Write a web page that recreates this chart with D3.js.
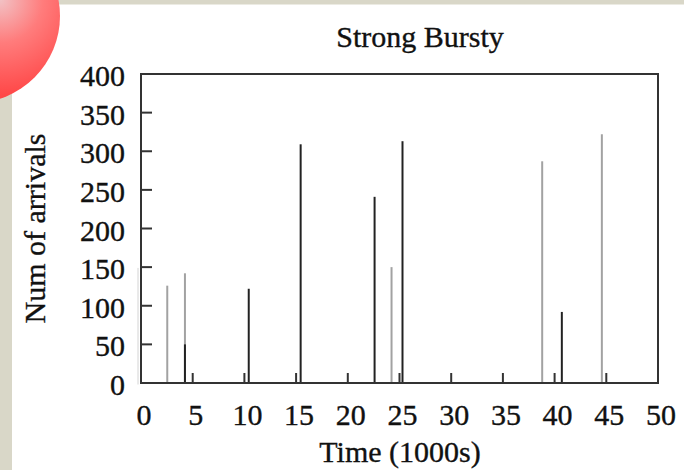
<!DOCTYPE html>
<html>
<head>
<meta charset="utf-8">
<script src="https://cdn.jsdelivr.net/npm/d3@7"></script>
<style>
  body { margin: 0; background: #fff; }
  text { font-family: "Liberation Serif", "DejaVu Serif", serif; fill: #111; stroke: #111; stroke-width: 0.35px; }
</style>
</head>
<body>
<script>
// arrivals over time, two traces (grey drawn first, black on top)
var greyTimes = [2.54, 4.25, 24.23, 38.8, 44.57];
var greyCounts = [126, 142, 150, 287, 322];
var blackTimes = [4.25, 10.42, 15.44, 22.59, 25.29, 40.7];
var blackCounts = [50, 122, 309, 241, 313, 92];
var xTicks = [0, 5, 10, 15, 20, 25, 30, 35, 40, 45, 50];
var yTicks = [0, 50, 100, 150, 200, 250, 300, 350, 400];

var width = 684, height = 470;
var margin = {top: 74, right: 25, bottom: 87, left: 141};

var svg = d3.select("body").append("svg")
    .attr("width", width)
    .attr("height", height);

// slide background bits
svg.append("rect").attr("x", 0).attr("y", 0).attr("width", width).attr("height", 4.5).attr("fill", "#d9d7c8");
svg.append("rect").attr("x", 0).attr("y", 0).attr("width", 12).attr("height", height).attr("fill", "#d9d7c8");

var grad = svg.append("defs").append("radialGradient")
    .attr("id", "ball")
    .attr("gradientUnits", "userSpaceOnUse")
    .attr("cx", 0).attr("cy", 0).attr("r", 95);
grad.append("stop").attr("offset", "0").attr("stop-color", "#f2c2c5");
grad.append("stop").attr("offset", "0.45").attr("stop-color", "#ff7c7c");
grad.append("stop").attr("offset", "1").attr("stop-color", "#ff4848");

svg.append("circle")
    .attr("cx", -27).attr("cy", 16).attr("r", 87)
    .attr("fill", "url(#ball)");

var x = d3.scaleLinear().domain([0, 50]).range([margin.left, width - margin.right - 1]);
var y = d3.scaleLinear().domain([0, 400]).range([height - margin.bottom, margin.top]);

// faint stray line left of the axis
svg.append("line")
    .attr("x1", 138).attr("x2", 138)
    .attr("y1", y(149)).attr("y2", y(-2))
    .attr("stroke", "#d4d4d4").attr("stroke-width", 1);

// bars
svg.selectAll(".grey")
  .data(greyTimes)
  .enter().append("line")
    .attr("class", "grey")
    .attr("x1", function(d) { return x(d); })
    .attr("x2", function(d) { return x(d); })
    .attr("y1", y(0))
    .attr("y2", function(d, i) { return y(greyCounts[i]); })
    .attr("stroke", "#a2a2a2")
    .attr("stroke-width", 2);

svg.selectAll(".black")
  .data(blackTimes)
  .enter().append("line")
    .attr("class", "black")
    .attr("x1", function(d) { return x(d); })
    .attr("x2", function(d) { return x(d); })
    .attr("y1", y(0))
    .attr("y2", function(d, i) { return y(blackCounts[i]); })
    .attr("stroke", "#222")
    .attr("stroke-width", 2);

// inward ticks
svg.selectAll(".ytick")
  .data(yTicks.slice(1, -1))
  .enter().append("line")
    .attr("x1", x(0)).attr("x2", x(0) + 11)
    .attr("y1", function(d) { return y(d); })
    .attr("y2", function(d) { return y(d); })
    .attr("stroke", "#333").attr("stroke-width", 2);

svg.selectAll(".xtick")
  .data(xTicks.slice(1, -1))
  .enter().append("line")
    .attr("x1", function(d) { return x(d); })
    .attr("x2", function(d) { return x(d); })
    .attr("y1", y(0)).attr("y2", y(0) - 10)
    .attr("stroke", "#333").attr("stroke-width", 2);

// frame
svg.append("rect")
    .attr("x", x(0)).attr("y", y(400))
    .attr("width", x(50) - x(0)).attr("height", y(0) - y(400))
    .attr("fill", "none").attr("stroke", "#333").attr("stroke-width", 2);

// labels
svg.selectAll(".ylab")
  .data(yTicks)
  .enter().append("text")
    .attr("x", 125)
    .attr("y", function(d) { return y(d) + 12; })
    .attr("text-anchor", "end")
    .style("font-size", "30px")
    .text(function(d) { return d; });

svg.selectAll(".xlab")
  .data(xTicks)
  .enter().append("text")
    .attr("x", function(d) { return x(d) + 3; })
    .attr("y", y(0) + 42)
    .attr("text-anchor", "middle")
    .style("font-size", "30px")
    .text(function(d) { return d; });

svg.append("text")
    .attr("x", 420).attr("y", 47)
    .attr("text-anchor", "middle")
    .style("font-size", "30px")
    .text("Strong Bursty");

svg.append("text")
    .attr("x", 400).attr("y", 462)
    .attr("text-anchor", "middle")
    .style("font-size", "30px")
    .text("Time (1000s)");

svg.append("text")
    .attr("transform", "translate(45," + ((y(0) + y(400)) / 2) + ") rotate(-90)")
    .attr("text-anchor", "middle")
    .style("font-size", "30px")
    .text("Num of arrivals");
</script>
</body>
</html>
